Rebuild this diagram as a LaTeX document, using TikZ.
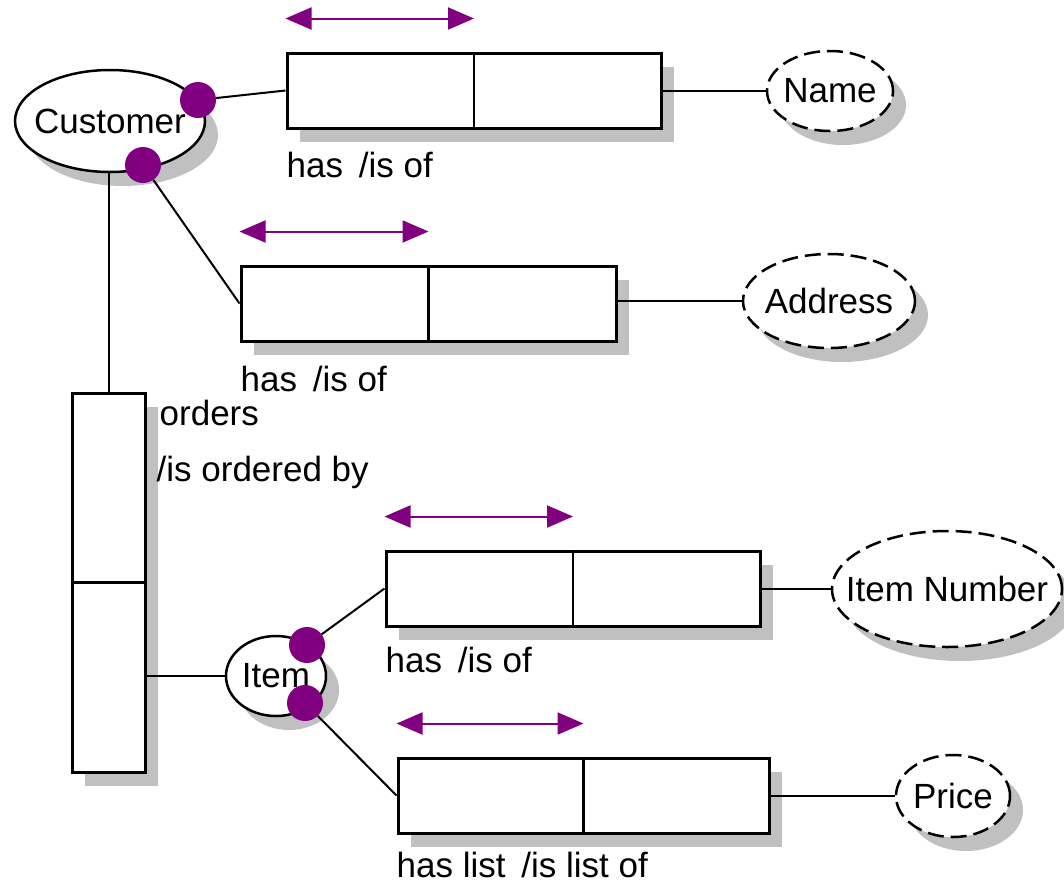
\documentclass[tikz,border=0pt]{standalone}
\usepackage{fontspec}
\setmainfont{Liberation Sans}
\usetikzlibrary{shapes.geometric,arrows.meta,calc,shadows}
\definecolor{erpurple}{RGB}{128,0,128}
\definecolor{shade}{RGB}{192,192,192}

\begin{document}
\begin{tikzpicture}[x=1pt,y=-1pt,
  font=\fontsize{35}{40}\selectfont,
  shadowed/.style={drop shadow={shadow xshift=13pt,shadow yshift=-14pt,fill=shade,opacity=1}},
  relbox/.style={rectangle,draw,line width=3pt,fill=white,inner sep=0pt,
    minimum height=75pt,shadowed},
  entity/.style={ellipse,draw,line width=2.5pt,fill=white,inner sep=0pt,shadowed},
  attrib/.style={entity,dash pattern=on 16pt off 7pt},
  conn/.style={line width=2pt},
  biarrow/.style={line width=2pt,draw=erpurple,
    {Triangle[length=26pt,width=22pt]}-{Triangle[length=26pt,width=22pt]}},
  dot/.style={circle,fill=erpurple,inner sep=0pt,minimum size=36pt},
  lbl/.style={anchor=west,inner sep=0pt}]
\useasboundingbox (0,0) rectangle (1064,884);
% ellipse outlines take their size from minimum width/height, not from the text
\newcommand{\etext}[1]{\makebox[0pt]{#1}}

% entities and attributes
\node[entity,minimum width=190pt,minimum height=102pt] (cust) at (110,121) {\etext{Customer}};
\node[entity,minimum width=100pt,minimum height=80pt] (item) at (276,676) {\etext{Item}};
\node[attrib,minimum width=126pt,minimum height=80pt] (name) at (830,91) {\etext{Name}};
\node[attrib,minimum width=172pt,minimum height=94pt] (addr) at (829,301) {\etext{Address}};
\node[attrib,minimum width=230pt,minimum height=116pt] (inum) at (947,589) {\etext{Item Number}};
\node[attrib,minimum width=114pt,minimum height=82pt] (price) at (953,796) {\etext{Price}};

% relationship boxes
\node[relbox,minimum width=374pt] (r1) at (474,90.5) {};
\node[relbox,minimum width=375pt] (r2) at (428.5,303.5) {};
\node[relbox,minimum width=374pt] (r3) at (573,588.5) {};
\node[relbox,minimum width=371pt] (r4) at (583.5,795.5) {};
\node[relbox,minimum width=73pt,minimum height=379pt] (tb) at (108.5,582.5) {};

% box dividers
\foreach \r in {r1,r2,r3,r4} \draw[line width=2.5pt] (\r.north) -- (\r.south);
\draw[line width=3pt] (tb.west) -- (tb.east);

% relationship labels
\node[lbl] (l1) at ($(r1.south west)+(1,35)$) {has\hspace{0.45em}/is of};
\node[lbl] (l2) at ($(r2.south west)+(1,36)$) {has\hspace{0.45em}/is of};
\node[lbl] (l3) at ($(r3.south west)+(1,32)$) {has\hspace{0.45em}/is of};
\node[lbl] (l4) at ($(r4.south west)+(0,30)$) {has list\hspace{0.45em}/is list of};
\node[lbl] (lo) at ($(tb.north east)+(13,21)$) {orders};
\node[lbl] (lob) at ($(tb.north east)+(10,81)$) {/is ordered by};

% cardinality arrows
\foreach \r/\k in {r1/a1,r2/a2,r3/a3,r4/a4}{
  \coordinate (\k l) at ($(\r.north west)+(0,-33)$);
  \coordinate (\k r) at ($(\r.north)+(0,-33)$);
  \draw[biarrow] (\k l) -- (\k r);
}

% connectors
\draw[conn] (name.west -| r1.east) -- (name.west);
\draw[conn] (addr.west -| r2.east) -- (addr.west);
\draw[conn] (inum.west -| r3.east) -- (inum.west);
\draw[conn] (price.west -| r4.east) -- (price.west);
\draw[conn] (item.west -| tb.east) -- (item.west);
\draw[conn] (tb.north) -- (tb.north |- cust.south);

% participation dots and their links
\node[dot] (d1) at (198,100) {};
\node[dot] (d2) at (143,165) {};
\node[dot] (d3) at (307,645) {};
\node[dot] (d4) at (305,703) {};
\draw[conn] (d1) -- (r1.west);
\draw[conn] (d2) -- (r2.west);
\draw[conn] (d3) -- (r3.west);
\draw[conn] (d4) -- (r4.west);
\end{tikzpicture}
\end{document}
